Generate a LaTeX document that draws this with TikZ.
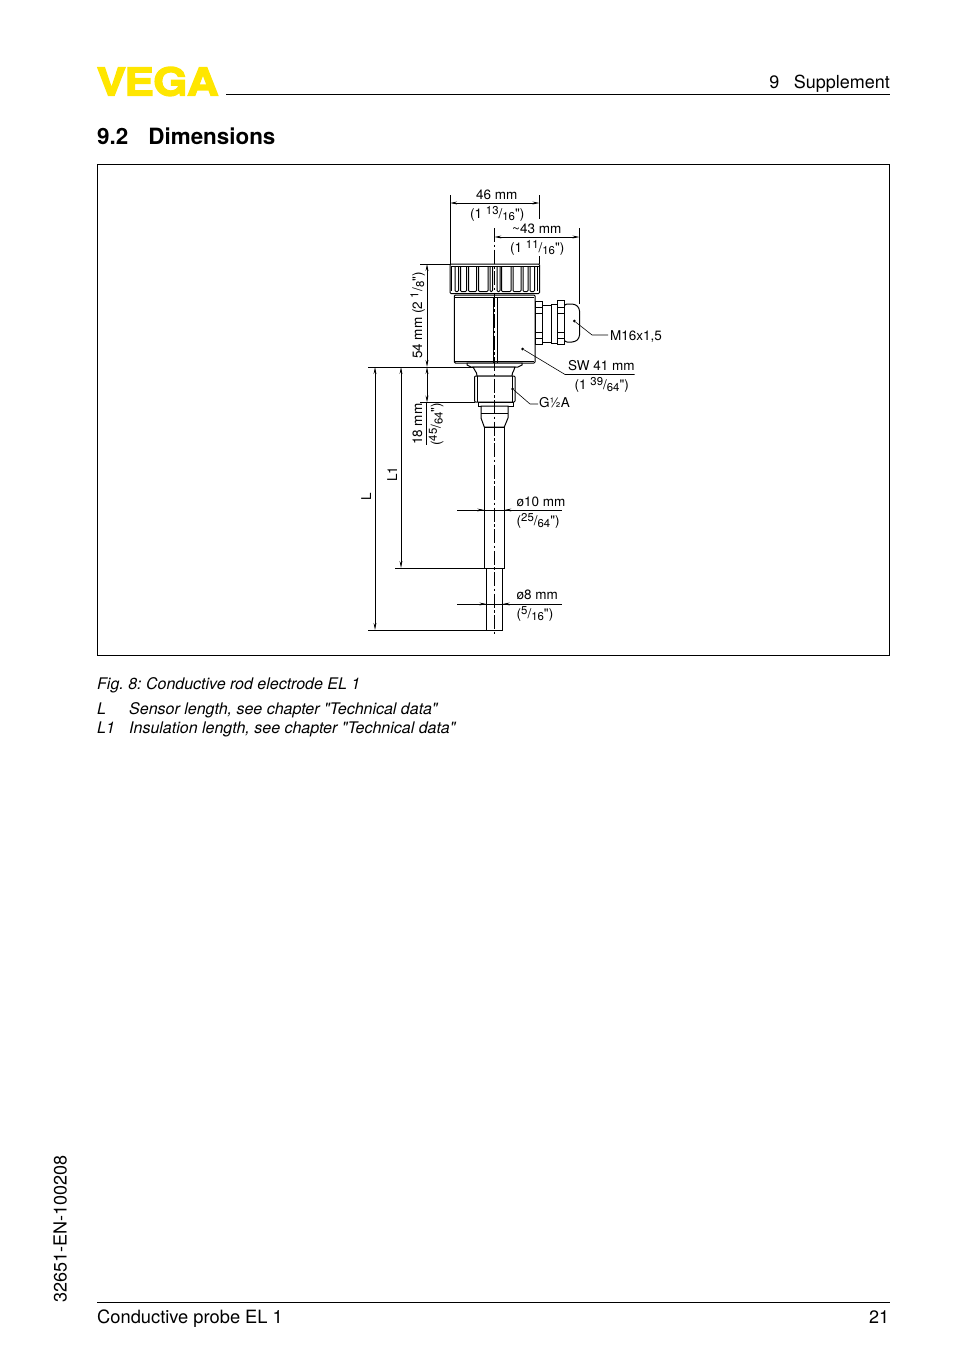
\documentclass[tikz,border=0pt]{standalone}
\usepackage{fontspec}
\setmainfont[Ligatures=TeXOff]{TeX Gyre Heros}
\newfontfamily\logofont[FakeBold=3.5,FakeStretch=1.14]{TeX Gyre Heros}
\usepackage{xcolor}
\definecolor{vegayellow}{HTML}{FFE600}
\usetikzlibrary{positioning,calc,arrows.meta}
\newcommand{\frc}[2]{\raisebox{3.6pt}{\fontsize{11.4}{12}\selectfont #1}/\raisebox{-2.2pt}{\fontsize{11.4}{12}\selectfont #2}}

\begin{document}
\frenchspacing
\begin{tikzpicture}[
    x=1pt,y=-1pt,
    part/.style={draw, line width=1pt, fill=white},
    thin part/.style={draw, line width=0.7pt},
    dimline/.style={draw, line width=0.7pt},
    dimarrow/.style={draw, line width=0.7pt, {Stealth[length=7pt,width=2.8pt]}-{Stealth[length=7pt,width=2.8pt]}},
    lead/.style={draw, line width=0.6pt},
    centre/.style={draw, line width=0.7pt, dash pattern=on 14pt off 2.5pt on 2.5pt off 2.5pt},
    label/.style={font=\fontsize{13.5}{15}\selectfont, inner sep=0pt, anchor=base west},
    vlabel/.style={font=\fontsize{13.5}{15}\selectfont, inner sep=0pt, rotate=90},
    body text/.style={font=\fontsize{18}{20}\selectfont, inner sep=0pt, anchor=base west},
    legend text/.style={font=\fontsize{16}{20}\selectfont\itshape, inner sep=0pt, anchor=base west},
    tip/.style={circle, fill=black, inner sep=0pt, minimum size=3pt}
  ]
  \useasboundingbox (0,0) rectangle (954,1354);

  % page furniture
  \node[font=\logofont\bfseries\fontsize{38.5}{39}\selectfont, text=vegayellow, inner sep=0pt, anchor=base west] (logo) at (96.5,95.5) {V\kern-1.5pt E\kern-0.5pt G\kern-0.5pt A};
  \coordinate (headl) at (226,94.5);
  \coordinate (headr) at (890,94.5);
  \draw[line width=0.7pt] (headl) -- (headr);
  \node[body text, anchor=base east] (chapter) at (890,88.5) {9\hspace{0.8em}Supplement};
  \node[font=\bfseries\fontsize{22.4}{26}\selectfont, inner sep=0pt, anchor=base west] (section) at (97,144.3) {9.2\hspace{0.9em}Dimensions};
  \node[draw, line width=0.7pt, minimum width=792pt, minimum height=491pt, inner sep=0pt] (frame) at (493.5,410) {};

  % cap nut
  \draw[part, rounded corners=1pt] (450,264) -- (539.5,264) -- (539.5,293.5) -- (450,293.5) -- cycle;
  \draw[thin part] (451,266) -- (538.5,266);
  \foreach \a/\b in {455/458.5,460.5/466.5,468.5/476.5,478.5/488,490/492.5,497/500,501.5/511,513/521,523/528,530/534.5}
    \draw[thin part, line width=1pt, rounded corners=1pt] (\a,266) -- (\a,291.5) -- (\b,291.5) -- (\b,266);
  \draw[line width=1.6pt] (451.5,266) -- (451.5,291) (537.5,266) -- (537.5,291);

  % housing
  \draw[part, rounded corners=1pt] (454.3,295) -- (535,295) -- (535,363) -- (454.3,363) -- cycle;
  \draw[thin part] (455,297) -- (534,297) (455,361) -- (534,361);
  \draw[line width=1pt] (493.3,297) -- (493.3,363) (497.5,297) -- (497.5,363);

  % cable gland
  \draw[part] (535,301.5) rectangle (542.5,344.5);
  \draw[thin part] (535,307) -- (542.5,307) (535,313) -- (542.5,313) (535,332) -- (542.5,332) (535,338) -- (542.5,338);
  \draw[part] (542.5,305.5) rectangle (551.7,342);
  \draw[part, rounded corners=3pt] (564,304) -- (575,304) -- (579.5,308) -- (579.5,338) -- (575,342) -- (564,342) -- cycle;
  \draw[part] (551.7,304) rectangle (557,343);
  \draw[part] (557,300.5) rectangle (564.3,344.5);
  \draw[thin part] (557,307) -- (564.3,307) (557,313) -- (564.3,313) (557,332) -- (564.3,332) (557,338) -- (564.3,338);

  % process fitting
  \draw[part] (467,363) -- (522,363) -- (522,365) -- (518,367) -- (471,367) -- (467,365) -- cycle;
  \draw[part] (473,367) .. controls (474,371) and (477,371) .. (477,376) -- (512,376) .. controls (512,371) and (515,371) .. (515,367) -- cycle;
  \draw[part, rounded corners=1pt] (474.5,376) rectangle (515,402);
  \draw[thin part] (477,376) -- (477,402) (512,376) -- (512,402);
  \draw[part] (478,402) rectangle (513,406);
  \draw[part] (481,406) -- (508,406) -- (508,418) -- (504.3,427) -- (484.3,427) -- (481,418) -- cycle;
  \draw[thin part] (481,413) -- (508,413);

  % rod
  \draw[part] (484.3,427) rectangle (504.3,568);
  \draw[part] (486.5,568) rectangle (502.7,630);
  \draw[centre] (494.3,228) -- (494.3,636);

  % dimension extension lines
  \coordinate (nutl) at (450,264);
  \coordinate (nutr) at (539.5,264);
  \draw[dimline] (450,195) -- (nutl);
  \draw[dimline] (539.5,195) -- (539.5,219);
  \draw[dimline] (539.5,256) -- (nutr);
  \draw[dimline] (579.5,228) -- (579.5,304);
  \draw[dimline] (420,264) -- (nutl);
  \draw[dimline] (368,367) -- (473,367);
  \draw[dimline] (420,402.5) -- (475,402.5);
  \draw[dimline] (395,568) -- (484.3,568);
  \draw[dimline] (368,630) -- (486.5,630);

  % dimension arrows
  \draw[dimarrow] (450,203) -- (539.5,203);
  \draw[dimarrow] (494.3,237) -- (579.5,237);
  \draw[dimarrow] (427,264) -- (427,367);
  \draw[dimarrow] (427,367) -- (427,402.5);
  \draw[dimline] (426.5,402.5) -- (426.5,445);
  \draw[dimarrow] (375,367) -- (375,630);
  \draw[dimarrow] (401,367) -- (401,568);

  % diameter dimensions
  \foreach \y/\l/\r in {510/484.3/504.3,604/486.5/502.7} {
    \draw[dimline] (457,\y) -- (562,\y);
    \draw[dimline, -{Stealth[length=7pt,width=2.8pt]}] (470,\y) -- (\l,\y);
    \draw[dimline, -{Stealth[length=7pt,width=2.8pt]}] (520,\y) -- (\r,\y);
  }

  % leaders
  \node[tip] (mtip) at (574.3,321) {};
  \node[tip] (swtip) at (522.7,349) {};
  \node[tip] (gtip) at (512.7,389) {};
  \node[label] (mlab) at (610,340) {M16x1,5};
  \coordinate (mbend) at (592,335);
  \coordinate (mend) at (608,335);
  \coordinate (swbend) at (565,374.5);
  \coordinate (swend) at (634.5,374.5);
  \coordinate (gbend) at (530,404);
  \coordinate (gend) at (538,404);
  \draw[lead] (mtip) -- (mbend) -- (mend);
  \draw[lead] (swtip) -- (swbend) -- (swend);
  \draw[lead] (gtip) -- (gbend) -- (gend);

  % labels
  \node[label] (w46) at (476,199) {46 mm};
  \node[label] (w46i) at (470,218.5) {(1 \frc{13}{16}")};
  \node[label] (w43) at (512,233) {\textasciitilde 43 mm};
  \node[label] (w43i) at (510,252.5) {(1 \frc{11}{16}")};
  \node[label] (sw) at (568,370) {SW 41 mm};
  \node[label] (swi) at (574.5,389.5) {(1 \frc{39}{64}")};
  \node[label] (g) at (539,407) {G½A};
  \node[label] (d10) at (516.5,506) {ø10 mm};
  \node[label] (d10i) at (516.5,525.5) {(\frc{25}{64}")};
  \node[label] (d8) at (516.5,599) {ø8 mm};
  \node[label] (d8i) at (516.5,618.5) {(\frc{5}{16}")};
  \node[vlabel, anchor=base west] (h54) at (422,359) {54 mm (2 \frc{1}{8}")};
  \node[vlabel, anchor=base west] (h18) at (422,445) {18 mm};
  \node[vlabel, anchor=base west] (h18i) at (440.5,446) {(\frc{45}{64}")};
  \node[vlabel, anchor=base] (l1) at (397,474) {L1};
  \node[vlabel, anchor=base] (ll) at (371,497) {L};

  % caption
  \node[legend text] (fig) at (97,689) {Fig. 8: Conductive rod electrode EL 1};
  \node[legend text] (keyl) at (97,714) {L};
  \node[legend text] (keylt) at (129,714) {Sensor length, see chapter "Technical data"};
  \node[legend text] (keyk) at (97,733) {L1};
  \node[legend text] (keykt) at (129,733) {Insulation length, see chapter "Technical data"};

  % footer
  \coordinate (footl) at (97,1302.5);
  \coordinate (footr) at (890,1302.5);
  \draw[line width=0.7pt] (footl) -- (footr);
  \node[body text, font=\fontsize{18.3}{20}\selectfont] (foot) at (97,1323) {Conductive probe EL 1};
  \node[body text, anchor=base east] (page) at (889.3,1323) {21};
  \node[body text, rotate=90, anchor=base west] (docno) at (66.5,1303) {32651-EN-100208};
\end{tikzpicture}
\end{document}
